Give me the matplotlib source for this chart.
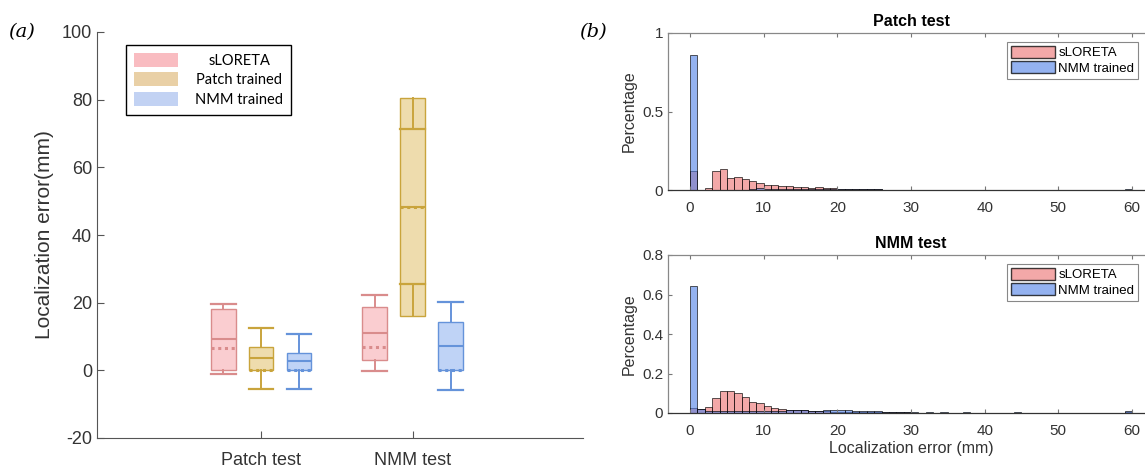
import numpy as np
import matplotlib.pyplot as plt
from matplotlib.patches import Patch
from matplotlib.transforms import Affine2D

plt.rcParams['font.family'] = ['Liberation Sans', 'DejaVu Sans']
plt.rcParams['axes.unicode_minus'] = False

# ---- panel (a): box summary ----
groups = ['Patch test', 'NMM test']
methods = ['sLORETA', 'Patch trained', 'NMM trained']
q1 = [[0.2, 0.2, 0.2], [3.2, 16.1, 0.2]]
q3 = [[18.2, 6.9, 5.2], [18.8, 80.6, 14.3]]
med = [[9.3, 3.6, 2.7], [11.0, 48.2, 7.2]]
mean = [[6.6, 0.0, 0.0], [7.0, 48.2, 0.0]]
whislo = [[-1.0, -5.4, -5.4], [-0.3, 25.6, -5.8]]
whishi = [[19.6, 12.4, 10.7], [22.2, 71.2, 20.2]]

# ---- panel (b): histogram, 1 mm bins from 0 to 60 ----
edges = np.arange(0, 61)
patch_sloreta = [0.12, 0.0, 0.012, 0.123, 0.134, 0.077, 0.083, 0.072, 0.055, 0.047,
                 0.034, 0.029, 0.025, 0.023, 0.021, 0.019, 0.015, 0.018, 0.012, 0.010,
                 0.008, 0.006, 0.005, 0.005, 0.004, 0.004, 0.002, 0.001, 0.001, 0.001,
                 0.001, 0.0005, 0.0005, 0.0005, 0.002, 0.0005, 0, 0, 0, 0,
                 0, 0, 0, 0, 0, 0, 0, 0, 0, 0,
                 0, 0, 0, 0, 0, 0, 0, 0, 0, 0.002]
patch_nmm = [0.858, 0.003, 0.002, 0.002, 0.002, 0.002, 0.002, 0.002, 0.005, 0.010,
             0.008, 0.006, 0.005, 0.005, 0.005, 0.005, 0.005, 0.006, 0.008, 0.008,
             0.006, 0.004, 0.004, 0.004, 0.004, 0.004, 0.002, 0.001, 0.0005, 0.0005,
             0.0005, 0.0005, 0, 0.0005, 0, 0, 0, 0, 0, 0,
             0, 0, 0, 0, 0, 0, 0, 0, 0, 0,
             0, 0, 0, 0, 0, 0, 0, 0, 0, 0.006]
nmm_sloreta = [0.024, 0.020, 0.029, 0.074, 0.113, 0.113, 0.100, 0.079, 0.057, 0.052,
               0.035, 0.027, 0.020, 0.015, 0.014, 0.013, 0.010, 0.009, 0.008, 0.007,
               0.006, 0.005, 0.005, 0.004, 0.003, 0.003, 0.003, 0.003, 0.003, 0.003,
               0.002, 0.002, 0.002, 0.002, 0.002, 0.002, 0.002, 0.002, 0.002, 0.002,
               0.002, 0.001, 0.001, 0.001, 0.001, 0.001, 0.001, 0.001, 0.001, 0.001,
               0.001, 0.001, 0.001, 0.001, 0.001, 0.001, 0.001, 0.001, 0.001, 0.004]
nmm_nmm = [0.645, 0.018, 0.012, 0.010, 0.010, 0.011, 0.010, 0.010, 0.010, 0.012,
           0.008, 0.010, 0.012, 0.015, 0.015, 0.014, 0.010, 0.012, 0.017, 0.017,
           0.016, 0.015, 0.012, 0.010, 0.012, 0.008, 0.007, 0.005, 0.004, 0.005,
           0.003, 0.002, 0.003, 0.002, 0.003, 0.002, 0.002, 0.003, 0.002, 0.002,
           0.002, 0.002, 0.002, 0.002, 0.003, 0.001, 0.001, 0.001, 0.001, 0.001,
           0.001, 0.001, 0.001, 0.001, 0.001, 0.001, 0.001, 0.001, 0.001, 0.010]

W, H = 1145, 468
fig = plt.figure(figsize=(W / 100, H / 100), dpi=100)

face = ['#facdd0', '#eedcad', '#bfd3f6']
edge = ['#d98c8c', '#c9a43c', '#6593da']
leg_face = ['#f9bcc1', '#e9d0a6', '#c2d2f3']
txt = '#333333'

ax = fig.add_axes([97 / W, 1 - 438 / H, 486 / W, 406 / H])
offsets = [-0.25, 0.0, 0.25]
bw = 0.164
for g in range(2):
    for m in range(3):
        st = dict(med=med[g][m], q1=q1[g][m], q3=q3[g][m], whislo=whislo[g][m],
                  whishi=whishi[g][m], mean=mean[g][m], fliers=[])
        ax.bxp([st], positions=[g + 1 + offsets[m]], widths=bw, capwidths=[bw],
               patch_artist=True, showmeans=True, meanline=True, manage_ticks=False,
               boxprops=dict(facecolor=face[m], edgecolor=edge[m], lw=1.0),
               whiskerprops=dict(color=edge[m], lw=1.4),
               capprops=dict(color=edge[m], lw=1.6),
               medianprops=dict(color=edge[m], lw=1.5),
               meanprops=dict(color=edge[m], lw=2.2, ls=(0, (1, 1.2)), zorder=5))

ax.set_xlim(-0.08, 3.12)
ax.set_ylim(-20, 100)
ax.set_yticks(np.arange(-20, 101, 20))
ax.set_xticks([1, 2], groups)
ax.tick_params(direction='in', length=5, colors='#555555', labelcolor=txt, labelsize=13)
ax.tick_params(axis='x', pad=10)
for s in ['top', 'right']:
    ax.spines[s].set_visible(False)
for s in ['left', 'bottom']:
    ax.spines[s].set_color('#555555')
ax.set_ylabel('Localization error(mm)', fontsize=15, color=txt, labelpad=6)

hs = [Patch(facecolor=c, edgecolor='none') for c in leg_face]
leg = ax.legend(hs, methods, loc='upper left', bbox_to_anchor=(126 / W, 1 - 45 / H),
                bbox_transform=fig.transFigure, borderaxespad=0, fancybox=False,
                edgecolor='black', framealpha=1, handlelength=3.0, handleheight=1.1,
                handletextpad=1.2, borderpad=0.55, labelspacing=0.3,
                prop=dict(family='Lato', size=10.5))
leg.get_frame().set_linewidth(1.0)

# centre the legend labels on each other, as in the original
fig.canvas.draw()
rend = fig.canvas.get_renderer()
wds = [t.get_window_extent(rend).width for t in leg.get_texts()]
for t, w in zip(leg.get_texts(), wds):
    t.set_transform(t.get_transform() + Affine2D().translate((max(wds) - w) / 2, 0))

fig.text(22 / W, 1 - 32 / H, '(a)', family='DejaVu Serif', style='italic',
         fontsize=14, ha='center', va='center')
fig.text(593 / W, 1 - 32 / H, '(b)', family='DejaVu Serif', style='italic',
         fontsize=14, ha='center', va='center')

# ---- panel (b) ----
red = (0.92, 0.43, 0.43, 0.6)
blue = (0.30, 0.50, 0.90, 0.6)
ecol = (0.0, 0.0, 0.0, 0.75)


def hist_panel(rect, s_vals, n_vals, ymax, yticks, title, xlabel=None):
    a = fig.add_axes(rect)
    a.bar(edges[:-1], s_vals, width=1, align='edge', color=red, edgecolor=ecol, lw=0.6)
    a.bar(edges[:-1], n_vals, width=1, align='edge', color=blue, edgecolor=ecol, lw=0.6)
    a.set_xlim(-3, 63)
    a.set_ylim(0, ymax)
    a.set_xticks(np.arange(0, 61, 10))
    a.set_yticks(yticks)
    a.set_yticklabels([('%g' % v) for v in yticks])
    a.tick_params(direction='in', length=3, top=True, right=True, colors='#777777',
                  labelcolor=txt, labelsize=11)
    a.tick_params(axis='x', pad=8)
    for s in a.spines.values():
        s.set_color('#888888')
        s.set_linewidth(0.9)
    a.spines['bottom'].set_color('#333333')
    a.set_title(title, fontweight='bold', fontsize=11.5, pad=5)
    a.set_ylabel('Percentage', fontsize=11.5, color=txt)
    if xlabel:
        a.set_xlabel(xlabel, fontsize=11.5, color=txt, labelpad=2)
    hs = [Patch(facecolor=red, edgecolor=ecol), Patch(facecolor=blue, edgecolor=ecol)]
    top_px = (1 - (rect[1] + rect[3])) * H + 9
    lg = a.legend(hs, ['sLORETA', 'NMM trained'], loc='upper left',
                  bbox_to_anchor=(1007 / W, 1 - top_px / H), bbox_transform=fig.transFigure,
                  borderaxespad=0, fancybox=False, edgecolor='#888888', framealpha=1,
                  handlelength=3.3, handleheight=1.0, handletextpad=0.3,
                  borderpad=0.3, labelspacing=0.15, fontsize=9.5)
    lg.get_frame().set_linewidth(0.8)
    return a


hist_panel([668 / W, 1 - 190 / H, 486 / W, 157 / H], patch_sloreta, patch_nmm,
           1, [0, 0.5, 1], 'Patch test')
hist_panel([668 / W, 1 - 413 / H, 486 / W, 158 / H], nmm_sloreta, nmm_nmm,
           0.8, [0, 0.2, 0.4, 0.6, 0.8], 'NMM test', 'Localization error (mm)')

fig.savefig('out.png', dpi=100)
